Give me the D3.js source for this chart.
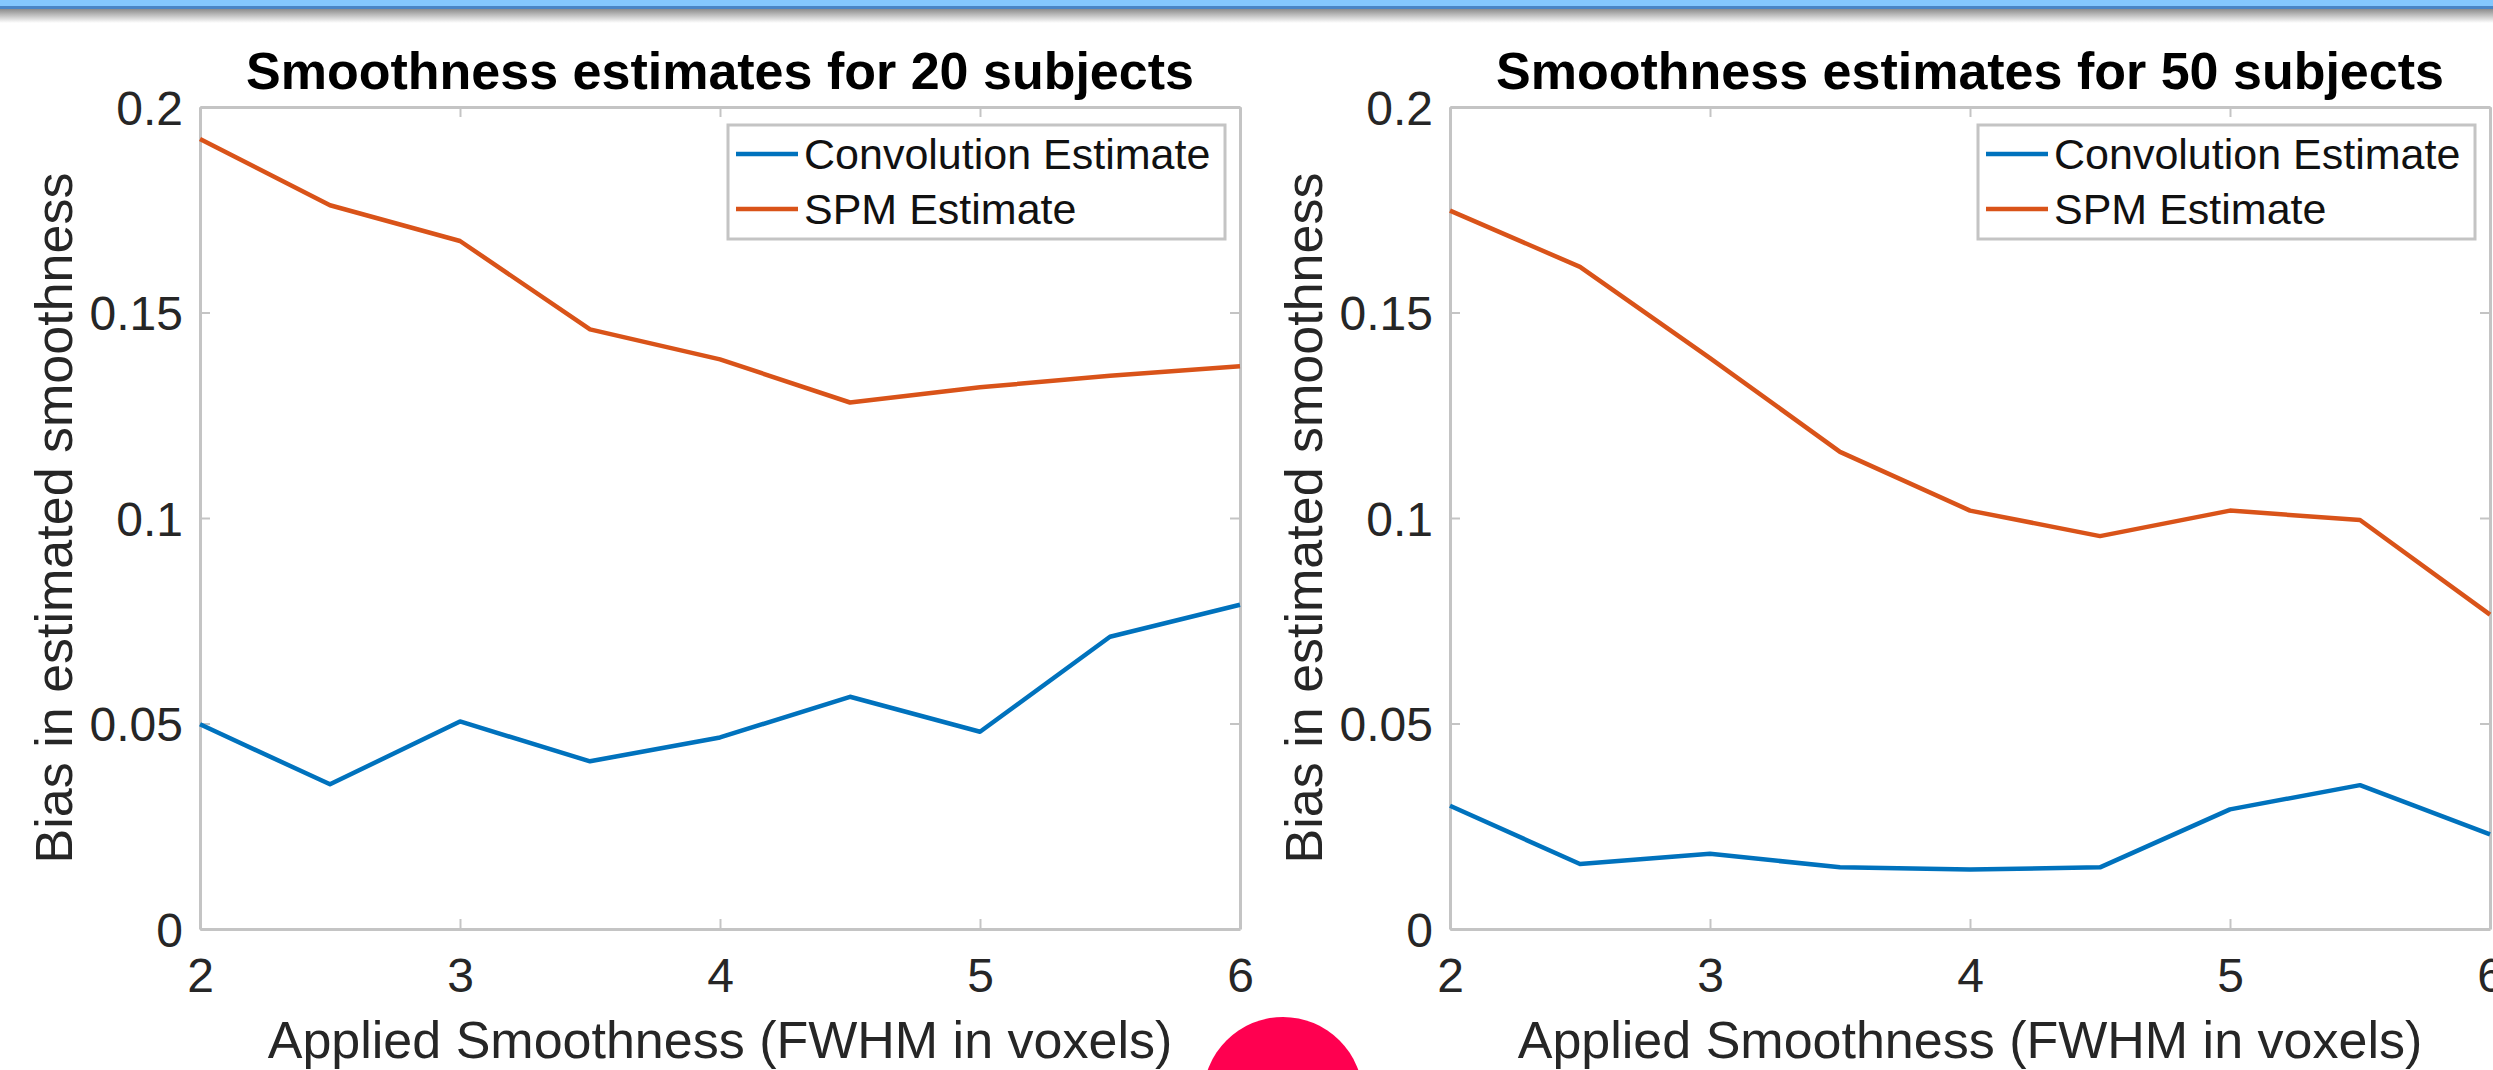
<!DOCTYPE html>
<html>
<head>
<meta charset="utf-8">
<script src="https://cdn.jsdelivr.net/npm/d3@7"></script>
<style>
  html, body { margin: 0; padding: 0; background: #fff; overflow: hidden; }
  svg { display: block; font-family: "Liberation Sans", Arial, Helvetica, sans-serif; }
</style>
</head>
<body>
<div id="chart"></div>
<script>
// data
const xValues = [2, 2.5, 3, 3.5, 4, 4.5, 5, 5.5, 6];
const conv20 = [0.0498, 0.0352, 0.0505, 0.0408, 0.0466, 0.0565, 0.0480, 0.0711, 0.0789];
const spm20 = [0.1922, 0.1761, 0.1674, 0.1459, 0.1386, 0.1281, 0.1318, 0.1346, 0.1369];
const conv50 = [0.0300, 0.0158, 0.0183, 0.0150, 0.0145, 0.0150, 0.0291, 0.0350, 0.0230];
const spm50 = [0.1748, 0.1611, 0.1389, 0.1161, 0.1018, 0.0956, 0.1018, 0.0995, 0.0765];
const xTicks = [2, 3, 4, 5, 6];
const yTicks = [0, 0.05, 0.1, 0.15, 0.2];
const seriesNames = ["Convolution Estimate", "SPM Estimate"];
const seriesColors = ["#0072BD", "#D95319"];
const panelTitles = ["Smoothness estimates for 20 subjects", "Smoothness estimates for 50 subjects"];
const xLabel = "Applied Smoothness (FWHM in voxels)";
const yLabel = "Bias in estimated smoothness";

/** CONSTANTS */
const width = 2493;
const height = 1070;
const plotTop = 107, plotBottom = 929;
const panels = [
  { title: panelTitles[0], series: [conv20, spm20], left: 200, right: 1240 },
  { title: panelTitles[1], series: [conv50, spm50], left: 1450, right: 2490 }
];
const axisColor = "#c4c4c4";
const textColor = "#262626";

const svg = d3.select("#chart")
  .append("svg")
  .attr("width", width)
  .attr("height", height);

// window band at the top
const defs = svg.append("defs");
const grad = defs.append("linearGradient")
  .attr("id", "shade").attr("x1", 0).attr("x2", 0).attr("y1", 0).attr("y2", 1);
grad.append("stop").attr("offset", "0%").attr("stop-color", "#8c8c8c");
grad.append("stop").attr("offset", "100%").attr("stop-color", "#ffffff");

svg.append("rect").attr("x", 0).attr("y", 0).attr("width", width).attr("height", 6).attr("fill", "#84c8fe");
svg.append("rect").attr("x", 0).attr("y", 6).attr("width", width).attr("height", 3).attr("fill", "#4a86c6");
svg.append("rect").attr("x", 0).attr("y", 9).attr("width", width).attr("height", 14).attr("fill", "url(#shade)");

panels.forEach(p => {
  const x = d3.scaleLinear().domain([2, 6]).range([p.left, p.right]);
  const y = d3.scaleLinear().domain([0, 0.2]).range([plotBottom, plotTop]);
  const g = svg.append("g");

  // axes, ticks point inward like matlab
  const styleAxis = sel => {
    sel.selectAll("path.domain").attr("stroke", axisColor).attr("stroke-width", 3);
    sel.selectAll(".tick line").attr("stroke", axisColor).attr("stroke-width", 2);
    sel.selectAll(".tick text")
      .attr("fill", textColor)
      .attr("font-size", 48)
      .attr("font-family", "'Liberation Sans', Arial, Helvetica, sans-serif");
  };

  g.append("g")
    .attr("transform", `translate(0,${plotBottom})`)
    .call(d3.axisBottom(x).tickValues(xTicks).tickSize(-10).tickSizeOuter(0).tickPadding(29)
      .tickFormat(d => String(d)))
    .call(styleAxis);

  g.append("g")
    .attr("transform", `translate(0,${plotTop})`)
    .call(d3.axisTop(x).tickValues(xTicks).tickSize(-10).tickSizeOuter(0).tickFormat(""))
    .call(styleAxis);

  g.append("g")
    .attr("transform", `translate(${p.left},0)`)
    .call(d3.axisLeft(y).tickValues(yTicks).tickSize(-10).tickSizeOuter(0).tickPadding(17)
      .tickFormat(d => String(d)))
    .call(styleAxis)
    .selectAll(".tick text").attr("dy", "0.36em");

  g.append("g")
    .attr("transform", `translate(${p.right},0)`)
    .call(d3.axisRight(y).tickValues(yTicks).tickSize(-10).tickSizeOuter(0).tickFormat(""))
    .call(styleAxis);

  // lines
  const line = d3.line()
    .x((d, i) => x(xValues[i]))
    .y(d => y(d));

  p.series.forEach((s, k) => {
    g.append("path")
      .datum(s)
      .attr("fill", "none")
      .attr("stroke", seriesColors[k])
      .attr("stroke-width", 4.5)
      .attr("stroke-linejoin", "round")
      .attr("d", line);
  });

  // title and labels
  const cx = (p.left + p.right) / 2;
  g.append("text")
    .attr("x", cx)
    .attr("y", 89)
    .attr("text-anchor", "middle")
    .attr("font-size", 52)
    .attr("font-weight", "bold")
    .attr("fill", "#000")
    .text(p.title);

  g.append("text")
    .attr("x", cx)
    .attr("y", 1058)
    .attr("text-anchor", "middle")
    .attr("font-size", 52)
    .attr("fill", textColor)
    .text(xLabel);

  g.append("text")
    .attr("transform", `translate(${p.left - 128},${(plotTop + plotBottom) / 2}) rotate(-90)`)
    .attr("text-anchor", "middle")
    .attr("font-size", 52)
    .attr("fill", textColor)
    .text(yLabel);

  // legend
  const lx = p.right - 512, ly = plotTop + 18;
  const legend = g.append("g").attr("transform", `translate(${lx},${ly})`);
  legend.append("rect")
    .attr("width", 497)
    .attr("height", 114)
    .attr("fill", "#fff")
    .attr("stroke", axisColor)
    .attr("stroke-width", 3);

  legend.selectAll("line")
    .data(seriesNames)
    .join("line")
    .attr("x1", 8)
    .attr("x2", 70)
    .attr("y1", (d, i) => 29 + i * 55)
    .attr("y2", (d, i) => 29 + i * 55)
    .attr("stroke", (d, i) => seriesColors[i])
    .attr("stroke-width", 4.5);

  legend.selectAll("text")
    .data(seriesNames)
    .join("text")
    .attr("x", 76)
    .attr("y", (d, i) => 29 + i * 55)
    .attr("dy", "0.36em")
    .attr("font-size", 43)
    .attr("fill", "#111")
    .text(d => d);
});

// pink marker cut off at the bottom
svg.append("circle")
  .attr("cx", 1283)
  .attr("cy", 1097)
  .attr("r", 80)
  .attr("fill", "#ff0050");
</script>
</body>
</html>
